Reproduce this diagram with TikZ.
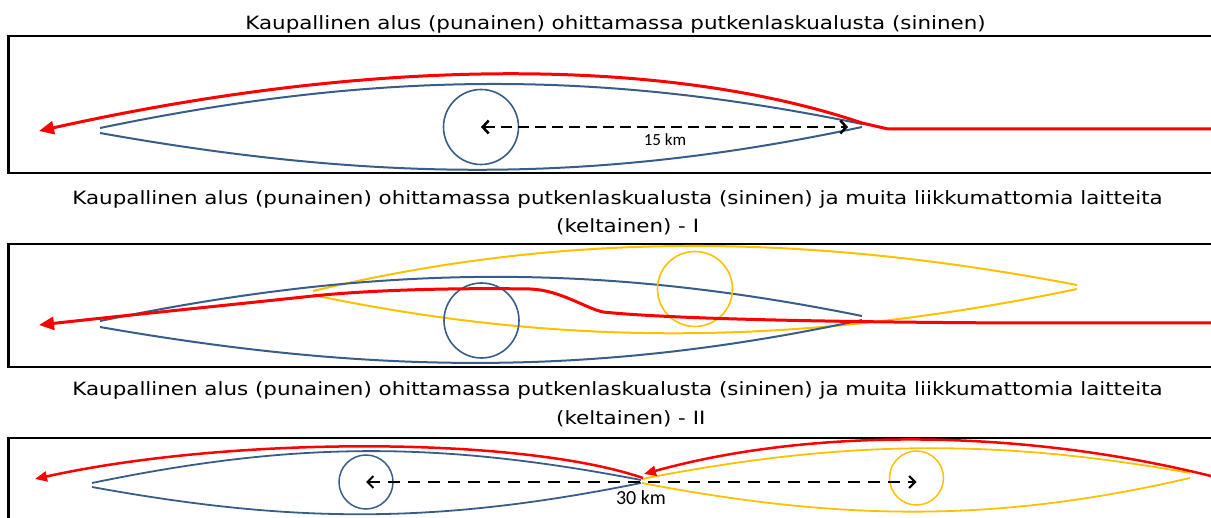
\documentclass[tikz,border=0pt]{standalone}
\usepackage{fontspec}
\setmainfont{DejaVu Sans}
\newfontfamily\labelfont{Carlito}
\usetikzlibrary{arrows.meta}
\definecolor{lensblue}{RGB}{56,93,138}
\definecolor{lensyellow}{RGB}{255,192,0}
\definecolor{shipred}{RGB}{255,0,0}
\newcommand{\stretchtext}[1]{\scalebox{1.17}[1]{#1}}

\begin{document}
\begin{tikzpicture}[x=1pt,y=-1pt,
  frame/.style={line width=2.3pt, black},
  lens/.style={line width=2pt, lensblue},
  ylens/.style={line width=2pt, lensyellow},
  ring/.style={circle, draw, line width=1.6pt, inner sep=0pt, outer sep=0pt},
  ship/.style={line width=3pt, shipred, -{Triangle[length=15pt,width=13pt]}},
  shipsmall/.style={line width=2.5pt, shipred, -{Triangle[length=12pt,width=10pt]}},
  distarrow/.style={line width=2.5pt, dash pattern=on 11pt off 6pt,
    {Straight Barb[length=6pt,width=13pt]}-{Straight Barb[length=6pt,width=13pt]}},
  distarrowsmall/.style={line width=2pt, dash pattern=on 12pt off 8pt,
    {Straight Barb[length=6pt,width=12pt]}-{Straight Barb[length=6pt,width=12pt]}},
  title/.style={font=\fontsize{18.3}{22}\selectfont, anchor=base, inner sep=0pt},
  dist/.style={font=\labelfont\fontsize{17}{20}\selectfont, inner sep=0pt}
]
\useasboundingbox (0,0) rectangle (1211,518);
\clip (0,0) rectangle (1211,518);

% ---------- panel 1: pipe-laying vessel only ----------
\node[title] (t1) at (615.5,30) {\stretchtext{Kaupallinen alus (punainen) ohittamassa putkenlaskualusta (sininen)}};
\draw[frame] (1215,35.7) -- (8.5,35.7) -- (8.5,173) -- (1215,173);

\draw[lens] (100,128) .. controls (380,70) and (600,70) .. (862,124);
\draw[lens] (100,133) .. controls (380,183) and (600,183) .. (862,127);
\node[ring, draw=lensblue, minimum size=75pt] (c1) at (481,127) {};
\coordinate (r1) at (848,127);
\draw[distarrow] (c1.center) -- (r1);
\node[dist] (k1) at (665,140) {15 km};
\draw[ship] (1215,129) -- (888,129) -- (862,123)
  .. controls (670,58) and (380,55) .. (39,131);

% ---------- panel 2: vessel and stationary units, case I ----------
\node[title] (t2a) at (617.5,205) {\stretchtext{Kaupallinen alus (punainen) ohittamassa putkenlaskualusta (sininen) ja muita liikkumattomia laitteita}};
\node[title, anchor=base west] (t2b) at (556,233) {\stretchtext{(keltainen) - I}};
\draw[frame] (1215,244) -- (8.5,244) -- (8.5,366.7) -- (1215,366.7);

\draw[ylens] (313,291) .. controls (560,232) and (800,232) .. (1077,285);
\draw[ylens] (313,295) .. controls (560,347) and (800,347) .. (1077,289);
\draw[lens] (100,321) .. controls (380,263) and (600,263) .. (862,316);
\draw[lens] (100,327) .. controls (380,376) and (600,376) .. (862,320);
\node[ring, draw=lensblue, minimum size=75pt] (c2b) at (481.5,320.5) {};
\node[ring, draw=lensyellow, minimum size=75pt] (c2y) at (695,289) {};
\draw[ship] (1215,323) -- (1020,323)
  .. controls (800,322) and (660,318) .. (603,312)
  .. controls (585,308) and (560,290) .. (530,289)
  .. controls (470,288) and (380,289) .. (313,296)
  .. controls (200,308) and (120,316) .. (39,325);

% ---------- panel 3: vessel and stationary units, case II ----------
\node[title] (t3a) at (617.5,396) {\stretchtext{Kaupallinen alus (punainen) ohittamassa putkenlaskualusta (sininen) ja muita liikkumattomia laitteita}};
\node[title, anchor=base west] (t3b) at (556,425) {\stretchtext{(keltainen) - II}};
\draw[frame] (1215,437.7) -- (8.5,437.7) -- (8.5,525);

\draw[lens, line width=1.8pt] (92,483) .. controls (295,441) and (438,441) .. (641,480);
\draw[lens, line width=1.8pt] (92,487) .. controls (295,524) and (438,524) .. (641,483);
\draw[ylens, line width=1.8pt] (642,479) .. controls (845,439) and (1000,439) .. (1190,473);
\draw[ylens, line width=1.8pt] (642,483) .. controls (845,522) and (1000,522) .. (1190,478);
\node[ring, draw=lensblue, line width=1.5pt, minimum size=54pt] (c3b) at (366,482) {};
\node[ring, draw=lensyellow, line width=1.5pt, minimum size=54pt] (c3y) at (916.5,478) {};
\draw[distarrowsmall] (c3b.center) -- (c3y.center |- c3b.center);
\node[dist, font=\labelfont\fontsize{20}{24}\selectfont] (k3) at (641,498) {30 km};
\draw[shipsmall] (643,478) .. controls (520,436) and (230,436) .. (35,479);
\draw[shipsmall] (1215,477) .. controls (1020,428) and (810,428) .. (644,474);
\end{tikzpicture}
\end{document}
